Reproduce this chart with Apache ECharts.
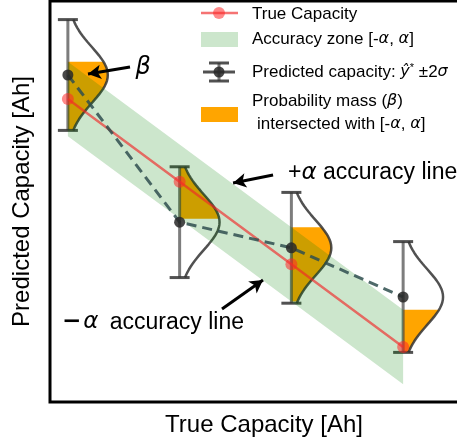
<!DOCTYPE html>
<html><head><meta charset="utf-8">
<script src="https://cdn.jsdelivr.net/npm/echarts@6.0.0/dist/echarts.min.js"></script>
<style>html,body{margin:0;padding:0;background:#fff}#c{width:457px;height:442px}</style>
</head><body><div id="c"></div>
<script>
// ---- data (schematic units) ----
const trueX = [1, 2, 3, 4];            // true capacity positions
const trueY = [4, 3, 2, 1];            // true capacity values
const predY = [4.29, 2.51, 2.20, 1.605]; // predicted capacity (mean)
const sigma = 0.335;                   // predictive std
const alphaZ = 0.45;                   // accuracy zone half width
const pdfScale = 0.3;                  // horizontal scale of drawn pdfs
// annotation anchors (data units)
const betaArrow = [[1.556, 4.387], [1.180, 4.302]];
const plusArrow = [[2.836, 3.081], [2.478, 2.984]];
const minusArrow = [[2.379, 1.460], [2.746, 1.811]];
const betaText = [1.673, 4.375];
const plusText = [2.97, 3.105];
const minusText = [0.947, 1.30];

const FONT = 'Liberation Sans, Arial, Helvetica, sans-serif';
const MATH = 'DejaVu Sans, sans-serif';

function pdf(y, mu) {
  return Math.exp(-(y - mu) * (y - mu) / (2 * sigma * sigma)) / (sigma * Math.sqrt(2 * Math.PI));
}
const N = 80;
const curveSeries = trueX.map((x0, i) => {
  const mu = predY[i];
  const pts = [];
  for (let k = 0; k <= N; k++) {
    const y = mu - 2 * sigma + 4 * sigma * k / N;
    pts.push([x0 + pdfScale * pdf(y, mu), y]);
  }
  return {
    type: 'line', data: pts, showSymbol: false, symbol: 'none', z: 3,
    lineStyle: { color: 'rgba(50,50,50,0.85)', width: 2.5 }, silent: true
  };
});

const ptData = trueX.map((x, i) => [x, predY[i]]);

const option = {
  animation: false,
  grid: { left: 50, right: -21, top: 1, bottom: 40, show: true, borderColor: '#000', borderWidth: 3, backgroundColor: 'transparent', containLabel: false, outerBoundsMode: 'none' },
  xAxis: {
    type: 'value', min: 0.84, max: 4.67,
    axisLine: { show: false }, axisTick: { show: false }, axisLabel: { show: false }, splitLine: { show: false },
    name: 'True Capacity [Ah]', nameLocation: 'middle', nameGap: 11,
    nameTextStyle: { fontSize: 24, color: '#000', fontFamily: FONT }
  },
  yAxis: {
    type: 'value', min: 0.335, max: 5.185,
    axisLine: { show: false }, axisTick: { show: false }, axisLabel: { show: false }, splitLine: { show: false },
    name: 'Predicted Capacity [Ah]', nameLocation: 'middle', nameGap: 16,
    nameTextStyle: { fontSize: 24, color: '#000', fontFamily: FONT }
  },
  series: [
    // orange probability mass inside [-alpha, alpha]
    {
      type: 'custom', z: 1, silent: true, data: ptData,
      renderItem: function (params, api) {
        const i = params.dataIndex;
        const x0 = trueX[i], mu = predY[i];
        const lo = Math.max(mu - 2 * sigma, trueY[i] - alphaZ);
        const hi = Math.min(mu + 2 * sigma, trueY[i] + alphaZ);
        if (hi <= lo) return null;
        const pts = [api.coord([x0, lo])];
        for (let k = 0; k <= 60; k++) {
          const y = lo + (hi - lo) * k / 60;
          pts.push(api.coord([x0 + pdfScale * pdf(y, mu), y]));
        }
        pts.push(api.coord([x0, hi]));
        return { type: 'polygon', shape: { points: pts }, style: { fill: '#FFA500' } };
      }
    },
    // error bars
    {
      type: 'custom', z: 2, silent: true, data: ptData,
      renderItem: function (params, api) {
        const i = params.dataIndex;
        const top = api.coord([trueX[i], predY[i] + 2 * sigma]);
        const bot = api.coord([trueX[i], predY[i] - 2 * sigma]);
        const cw = 10;
        return {
          type: 'group', children: [
            { type: 'line', shape: { x1: top[0], y1: top[1], x2: bot[0], y2: bot[1] }, style: { stroke: 'rgba(70,70,70,0.7)', lineWidth: 3 } },
            { type: 'line', shape: { x1: top[0] - cw, y1: top[1], x2: top[0] + cw, y2: top[1] }, style: { stroke: 'rgba(50,50,50,0.85)', lineWidth: 3 } },
            { type: 'line', shape: { x1: bot[0] - cw, y1: bot[1], x2: bot[0] + cw, y2: bot[1] }, style: { stroke: 'rgba(50,50,50,0.85)', lineWidth: 3 } }
          ]
        };
      }
    },
    ...curveSeries,
    // accuracy zone band
    {
      type: 'custom', z: 4, silent: true, data: [[trueX[0], trueY[0]]],
      renderItem: function (params, api) {
        const pts = [];
        for (let i = 0; i < trueX.length; i++) pts.push(api.coord([trueX[i], trueY[i] + alphaZ]));
        for (let i = trueX.length - 1; i >= 0; i--) pts.push(api.coord([trueX[i], trueY[i] - alphaZ]));
        return { type: 'polygon', shape: { points: pts }, style: { fill: 'rgba(0,128,0,0.2)' } };
      }
    },
    // true capacity line
    {
      type: 'line', z: 5, data: trueX.map((x, i) => [x, trueY[i]]),
      symbol: 'circle', symbolSize: 12, showSymbol: true,
      itemStyle: { color: 'rgba(255,40,40,0.55)' },
      lineStyle: { color: 'rgba(240,40,40,0.65)', width: 2.5 },
      markLine: {
        silent: true, symbol: ['none', 'arrow'], symbolSize: [11, 13],
        label: { show: false },
        lineStyle: { color: '#000', width: 3, type: 'solid' },
        data: [betaArrow, plusArrow, minusArrow].map(a => [
          { coord: a[0], symbol: 'none' }, { coord: a[1], symbol: 'arrow' }
        ])
      }
    },
    // predicted line (dashed)
    {
      type: 'line', z: 6, data: ptData,
      symbol: 'circle', symbolSize: 11, showSymbol: true,
      itemStyle: { color: 'rgba(40,40,40,0.85)' },
      lineStyle: { color: 'rgba(47,79,79,0.85)', width: 3, type: [10, 6] }
    }
  ]
};

const chart = echarts.init(document.getElementById('c'), null, { renderer: 'canvas' });
chart.setOption(option);

const P = (d) => chart.convertToPixel({ gridIndex: 0 }, d);
const bt = P(betaText), pt = P(plusText), mt = P(minusText);

const mathRich = {
  n: { fontFamily: FONT, fontSize: 23, color: '#000' },
  m: { fontFamily: MATH, fontSize: 23, color: '#000', fontWeight: 'bold' },
  i: { fontFamily: MATH, fontStyle: 'italic', fontSize: 23, color: '#000' },
  ip: { fontFamily: MATH, fontStyle: 'italic', fontSize: 23, color: '#000', padding: [0, 5, 0, 2] }
};
const legRich = {
  n: { fontFamily: FONT, fontSize: 17, color: '#000' },
  i: { fontFamily: MATH, fontStyle: 'italic', fontSize: 16, color: '#000' },
  s: { fontFamily: FONT, fontSize: 11, color: '#000', padding: [0, 0, 9, 0] }
};

const graphics = [
  { type: 'text', x: bt[0], y: bt[1], z: 10, style: { text: 'β', font: 'italic 24px DejaVu Sans', fill: '#000', align: 'center', verticalAlign: 'middle' } },
  { type: 'text', x: pt[0], y: pt[1], z: 10, style: { text: '{n|+}{i|α}{n| accuracy line}', rich: mathRich, align: 'left', verticalAlign: 'middle' } },
  { type: 'text', x: mt[0], y: mt[1], z: 10, style: { text: '{m|−}{ip|α}{n| accuracy line}', rich: mathRich, align: 'left', verticalAlign: 'middle' } },
  // legend handles
  { type: 'line', shape: { x1: 201, y1: 13, x2: 238, y2: 13 }, style: { stroke: 'rgba(240,40,40,0.65)', lineWidth: 2.5 } },
  { type: 'circle', shape: { cx: 219, cy: 13, r: 6 }, style: { fill: 'rgba(255,40,40,0.55)' } },
  { type: 'rect', shape: { x: 201, y: 32, width: 37, height: 15 }, style: { fill: 'rgba(0,128,0,0.2)' } },
  { type: 'line', shape: { x1: 203, y1: 72, x2: 235, y2: 72 }, style: { stroke: 'rgba(50,50,50,0.85)', lineWidth: 3 } },
  { type: 'line', shape: { x1: 219, y1: 63, x2: 219, y2: 81 }, style: { stroke: 'rgba(70,70,70,0.7)', lineWidth: 3 } },
  { type: 'line', shape: { x1: 209, y1: 63, x2: 229, y2: 63 }, style: { stroke: 'rgba(50,50,50,0.85)', lineWidth: 3 } },
  { type: 'line', shape: { x1: 209, y1: 81, x2: 229, y2: 81 }, style: { stroke: 'rgba(50,50,50,0.85)', lineWidth: 3 } },
  { type: 'circle', shape: { cx: 219, cy: 72, r: 5.5 }, style: { fill: 'rgba(40,40,40,0.85)' } },
  { type: 'rect', shape: { x: 201, y: 107, width: 37, height: 15 }, style: { fill: '#FFA500' } },
  // legend texts
  { type: 'text', x: 252, y: 14, style: { text: 'True Capacity', font: '17px ' + FONT, fill: '#000', verticalAlign: 'middle' } },
  { type: 'text', x: 252, y: 39, style: { text: '{n|Accuracy zone [-}{i|α}{n|, }{i|α}{n|]}', rich: legRich, verticalAlign: 'middle' } },
  { type: 'text', x: 252, y: 72, style: { text: '{n|Predicted capacity: }{i|ŷ}{s|*}{n| ±2}{i|σ}', rich: legRich, verticalAlign: 'middle' } },
  { type: 'text', x: 252, y: 101, style: { text: '{n|Probability mass (}{i|β}{n|)}', rich: legRich, verticalAlign: 'middle' } },
  { type: 'text', x: 257, y: 124, style: { text: '{n|intersected with [-}{i|α}{n|, }{i|α}{n|]}', rich: legRich, verticalAlign: 'middle' } }
];
chart.setOption({ graphic: graphics });
</script>
</body></html>
